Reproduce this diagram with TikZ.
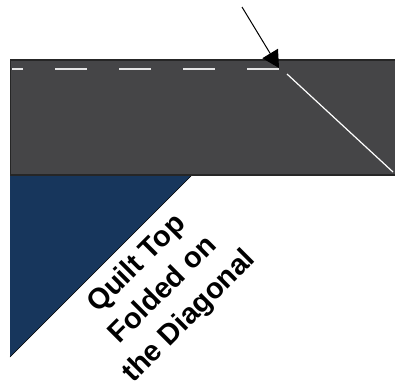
\documentclass[tikz,border=0pt]{standalone}
\usepackage{fontspec}
\setmainfont{Liberation Sans}
\usetikzlibrary{arrows.meta}
\definecolor{fabric}{HTML}{454547}
\definecolor{quilt}{HTML}{17365C}
\definecolor{seam}{HTML}{E6E6E6}

\begin{document}
\begin{tikzpicture}[
  x=1pt, y=-1pt,
  edge/.style={draw=black!85, line width=1.2pt},
  stitch/.style={seam, line width=1.3pt, dash pattern=on 32pt off 32pt},
  fold/.style={white, line width=1.2pt},
  pointer/.style={-{Triangle[length=17pt, width=18pt]}, line width=1pt}
]
  \useasboundingbox (0,0) rectangle (395,384);

  % folded quilt top (blue triangle)
  \fill[quilt] (10,175) -- (192,175) -- (10,357) -- cycle;
  \draw[black, line width=0.6pt] (192,175) -- (10,357);

  % binding strip
  \fill[fabric] (10,60) rectangle (395,175);
  \draw[edge] (10,60) -- (395,60);
  \draw[edge] (10,175) -- (395,175);
  \draw[black!85, line width=1pt] (10.5,60) -- (10.5,175);

  % stitching and fold line
  \coordinate (corner) at (279,68);
  \coordinate (start) at (12,69);
  \draw[stitch] (279,69) -- (start);
  \coordinate (foldtop) at (287,74);
  \coordinate (foldend) at (393,172);
  \draw[fold] (foldtop) -- (foldend);

  % pointer arrow
  \coordinate (tail) at (242,7);
  \draw[pointer] (tail) -- (corner);

  % label
  \node[rotate=45, align=center, font=\bfseries\fontsize{29}{37}\selectfont,
        inner sep=0pt] (label) at (163.5,290.5) {Quilt Top\\Folded on\\the Diagonal};
\end{tikzpicture}
\end{document}
